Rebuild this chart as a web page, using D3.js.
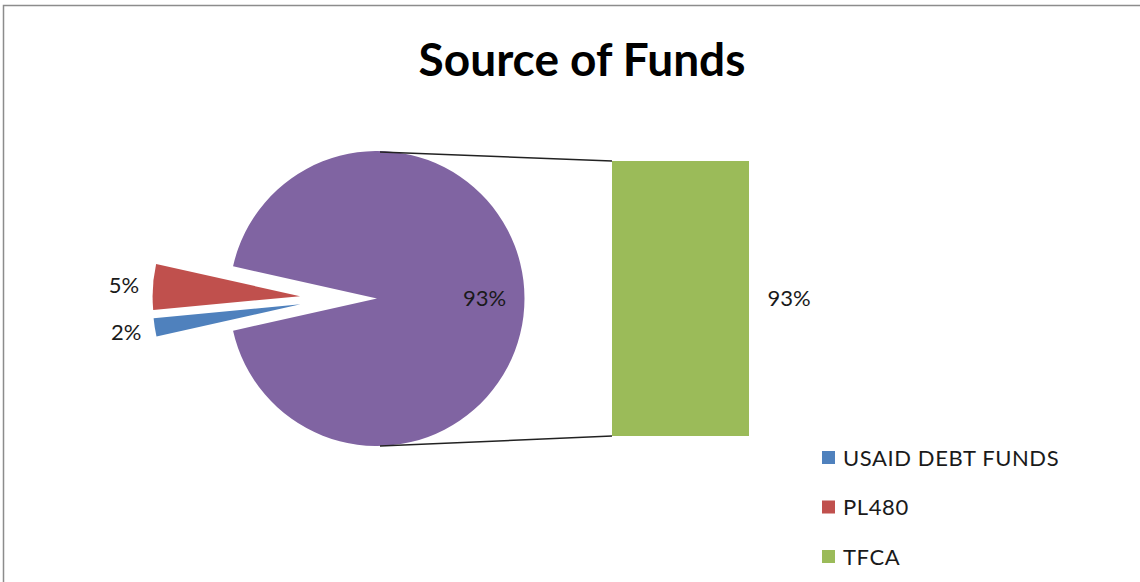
<!DOCTYPE html>
<html>
<head>
<meta charset="utf-8">
<script src="https://cdn.jsdelivr.net/npm/d3@7"></script>
<style>
  body { margin: 0; background: #fff; }
  text { font-family: Lato, "Open Sans", sans-serif; fill: #1a1a1a; }
</style>
</head>
<body>
<svg id="chart" width="1140" height="582"></svg>
<script>
// data
const categories = ["USAID DEBT FUNDS", "PL480", "TFCA"];
const values = [2, 5, 93];            // percent of total
const colors = ["#4F81BD", "#C0504D", "#9BBB59"];
const otherColor = "#8064A2";         // pie slice standing for the bar
const barCategories = ["TFCA"];       // points split into the bar

var svg = d3.select('#chart');

// chart area border (cut off on the right and bottom)
svg.append('rect')
  .attr('x', 3.5).attr('y', 5.5)
  .attr('width', 1200).attr('height', 700)
  .attr('fill', 'none')
  .attr('stroke', '#8c8c8c')
  .attr('stroke-width', 1.5);

svg.append('text')
  .attr('x', 582).attr('y', 76)
  .attr('text-anchor', 'middle')
  .attr('font-size', '46px')
  .attr('font-weight', 'bold')
  .style('fill', '#000')
  .text('Source of Funds');

// pie layout: the bar points become one "other" slice
var pieData = categories.map((c, i) => ({ name: c, value: values[i], color: colors[i] }));
var inPie = pieData.filter(d => !barCategories.includes(d.name));
var inBar = pieData.filter(d => barCategories.includes(d.name));
var otherVal = d3.sum(inBar, d => d.value);
var slices = inPie.concat([{ name: 'Other', value: otherVal, color: otherColor, other: true }]);

var total = d3.sum(slices, d => d.value);
var smallShare = d3.sum(inPie, d => d.value) / total;
var start = -Math.PI / 2 - smallShare * Math.PI;   // small slices centred on the left

var pie = d3.pie().sort(null).value(d => d.value)
  .startAngle(start).endAngle(start + 2 * Math.PI);

var cx = 377, cy = 298.5, r = 147.5;
var arc = d3.arc().innerRadius(0).outerRadius(r);
var shiftX = -40, explode = 37;

var pieG = svg.append('g').attr('transform', `translate(${cx}, ${cy})`);
var arcs = pie(slices);

function offset(d) {
  if (d.data.other) return [0, 0];
  var a = (d.startAngle + d.endAngle) / 2;
  return [shiftX + explode * Math.sin(a), -explode * Math.cos(a)];
}

pieG.selectAll('path.slice')
  .data(arcs)
  .enter()
  .append('path')
  .attr('class', 'slice')
  .attr('d', arc)
  .attr('fill', d => d.data.color)
  .attr('transform', d => `translate(${offset(d)[0]}, ${offset(d)[1]})`);

// percentage labels on the pie
function labelPos(d) {
  var a = (d.startAngle + d.endAngle) / 2;
  var o = offset(d);
  var rr = d.data.other ? r * 0.73 : r + 29;
  return [o[0] + rr * Math.sin(a), o[1] - rr * Math.cos(a)];
}
pieG.selectAll('text.lbl')
  .data(arcs)
  .enter()
  .append('text')
  .attr('class', 'lbl')
  .attr('font-size', '22px')
  .attr('text-anchor', 'middle')
  .attr('dy', '0.35em')
  .attr('x', d => labelPos(d)[0])
  .attr('y', d => labelPos(d)[1])
  .text(d => Math.round(d.value / total * 100) + '%');

// bar of the split points
var barX = 612, barW = 137;
var yBar = d3.scaleLinear().domain([0, otherVal]).range([436, 161]);
var stack = [];
var acc = 0;
inBar.forEach(d => { stack.push({ d: d, y0: acc, y1: acc + d.value }); acc += d.value; });

// connector lines
svg.append('line')
  .attr('x1', cx + 3).attr('y1', cy - r + 1)
  .attr('x2', barX).attr('y2', yBar(otherVal))
  .attr('stroke', '#222').attr('stroke-width', 1.5);
svg.append('line')
  .attr('x1', cx + 3).attr('y1', cy + r)
  .attr('x2', barX).attr('y2', yBar(0))
  .attr('stroke', '#222').attr('stroke-width', 1.5);

svg.selectAll('rect.seg')
  .data(stack)
  .enter()
  .append('rect')
  .attr('class', 'seg')
  .attr('x', barX)
  .attr('y', s => yBar(s.y1))
  .attr('width', barW)
  .attr('height', s => yBar(s.y0) - yBar(s.y1))
  .attr('fill', s => s.d.color);

svg.selectAll('text.barlbl')
  .data(stack)
  .enter()
  .append('text')
  .attr('class', 'barlbl')
  .attr('font-size', '22px')
  .attr('text-anchor', 'middle')
  .attr('dy', '0.35em')
  .attr('x', barX + barW + 40)
  .attr('y', s => yBar((s.y0 + s.y1) / 2))
  .text(s => Math.round(s.d.value / total * 100) + '%');

// legend
var legend = svg.append('g').attr('transform', 'translate(822, 451)');
var items = legend.selectAll('g')
  .data(pieData)
  .enter()
  .append('g')
  .attr('transform', (d, i) => `translate(0, ${i * 49.5})`);
items.append('rect')
  .attr('width', 13).attr('height', 13)
  .attr('fill', d => d.color);
items.append('text')
  .attr('x', 21).attr('y', 14.5)
  .attr('font-size', '22px')
  .attr('letter-spacing', '0.6px')
  .text(d => d.name);
</script>
</body>
</html>
